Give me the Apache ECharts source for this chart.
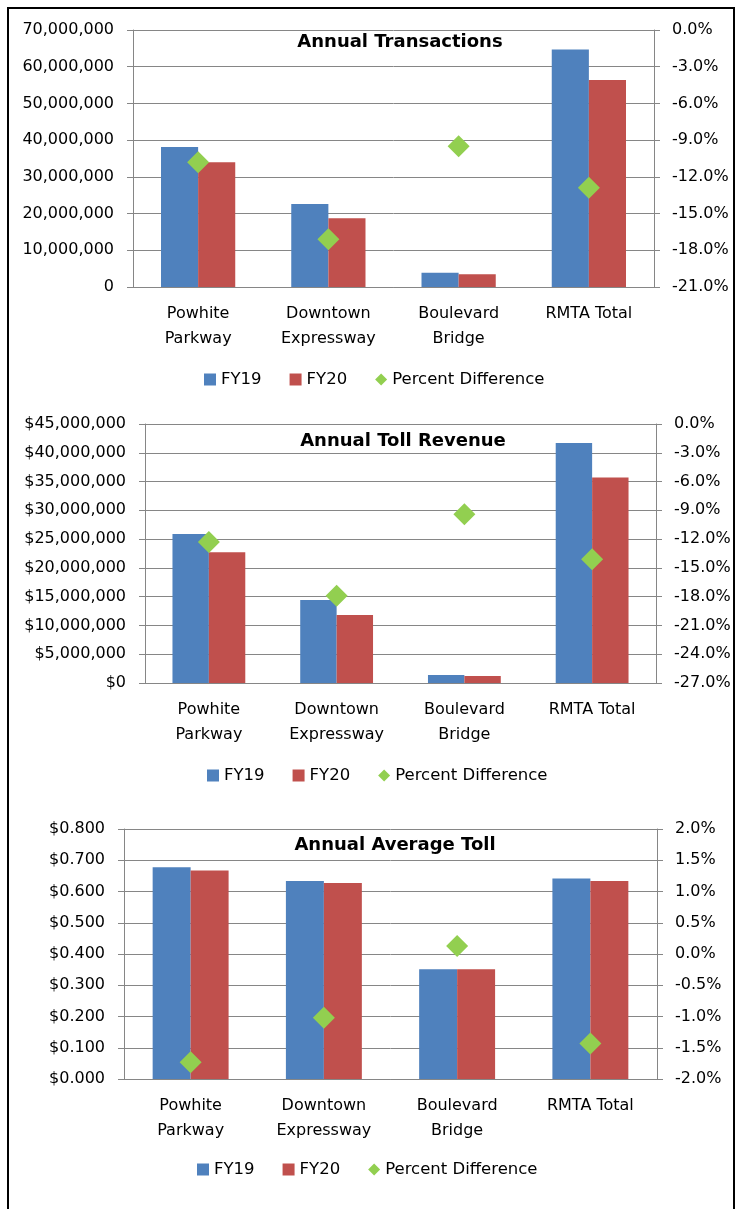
<!DOCTYPE html>
<html>
<head>
<meta charset="utf-8">
<script src="https://cdn.jsdelivr.net/npm/echarts@6/dist/echarts.min.js"></script>
<style>
  html, body { margin: 0; padding: 0; background: #fff; }
  #chart { width: 738px; height: 1209px; }
</style>
</head>
<body>
<div id="chart"></div>
<script>
const categories = ['Powhite\nParkway', 'Downtown\nExpressway', 'Boulevard\nBridge', 'RMTA Total'];
const legendNames = ['FY19', 'FY20', 'Percent Difference'];

// Annual Transactions
const transFY19 = [38100000, 22600000, 3900000, 64700000];
const transFY20 = [34000000, 18700000, 3500000, 56400000];
const transPct = [-10.8, -17.1, -9.5, -12.9];

// Annual Toll Revenue
const revFY19 = [25900000, 14400000, 1400000, 41700000];
const revFY20 = [22700000, 11800000, 1200000, 35700000];
const revPct = [-12.3, -17.9, -9.4, -14.1];

// Annual Average Toll
const tollFY19 = [0.678, 0.634, 0.351, 0.642];
const tollFY20 = [0.667, 0.627, 0.351, 0.634];
const tollPct = [-1.73, -1.02, 0.13, -1.43];

// axis ranges [min, max, interval]
const transLeftAxis = [0, 70000000, 10000000];
const transRightAxis = [-21, 0, 3];
const revLeftAxis = [0, 45000000, 5000000];
const revRightAxis = [-27, 0, 3];
const tollLeftAxis = [0, 0.8, 0.1];
const tollRightAxis = [-2, 2, 0.5];

const FONT = 'DejaVu Sans';
const GRAY = '#868686';

const fmtCount = v => v.toLocaleString('en-US');
const fmtDollar = v => '$' + v.toLocaleString('en-US');
const fmtToll = v => '$' + v.toFixed(3);
const fmtPct = v => (Math.abs(v) < 1e-9 ? 0 : v).toFixed(1) + '%';

const panels = [
  { title: 'Annual Transactions', titleX: 400, titleY: 42, legendX: 204, legendY: 379,
    grid: { left: 133, top: 30, width: 521, height: 257 },
    fy19: transFY19, fy20: transFY20, pct: transPct,
    left: transLeftAxis, right: transRightAxis, leftFmt: fmtCount },
  { title: 'Annual Toll Revenue', titleX: 403, titleY: 441, legendX: 207, legendY: 775,
    grid: { left: 145, top: 424, width: 511, height: 259 },
    fy19: revFY19, fy20: revFY20, pct: revPct,
    left: revLeftAxis, right: revRightAxis, leftFmt: fmtDollar },
  { title: 'Annual Average Toll', titleX: 395, titleY: 845, legendX: 197, legendY: 1169,
    grid: { left: 124, top: 829, width: 533, height: 250 },
    fy19: tollFY19, fy20: tollFY20, pct: tollPct,
    left: tollLeftAxis, right: tollRightAxis, leftFmt: fmtToll }
];

const option = {
  animation: false,
  textStyle: { fontFamily: FONT },
  title: [], legend: [], grid: [], xAxis: [], yAxis: [], series: [],
  graphic: [{
    type: 'rect',
    shape: { x: 8, y: 8, width: 726, height: 1230 },
    style: { fill: 'none', stroke: '#000', lineWidth: 2 },
    silent: true
  }]
};

panels.forEach((p, i) => {
  option.title.push({
    text: p.title, left: p.titleX, top: p.titleY - 11, padding: 0, textAlign: 'center',
    textStyle: { fontFamily: FONT, fontSize: 18, fontWeight: 'bold', color: '#000', lineHeight: 22 }
  });
  option.legend.push({
    left: p.legendX, top: p.legendY - 8, padding: 0,
    itemWidth: 12, itemHeight: 12, itemGap: 28,
    textStyle: { fontFamily: FONT, fontSize: 16.5, color: '#000', lineHeight: 16 },
    data: [
      { name: legendNames[0], icon: 'rect' },
      { name: legendNames[1], icon: 'rect' },
      { name: legendNames[2], icon: 'diamond' }
    ]
  });
  option.grid.push(p.grid);
  option.xAxis.push({
    type: 'category', gridIndex: i, data: categories,
    axisLine: { lineStyle: { color: GRAY, width: 1 } },
    axisTick: { length: 6, lineStyle: { color: GRAY } },
    axisLabel: { interval: 0, margin: 14, fontFamily: FONT, fontSize: 16, lineHeight: 25, color: '#000' }
  });
  option.yAxis.push({
    type: 'value', gridIndex: i, min: p.left[0], max: p.left[1], interval: p.left[2],
    axisLine: { show: true, lineStyle: { color: GRAY } },
    axisTick: { show: true, length: 6, lineStyle: { color: GRAY } },
    splitLine: { lineStyle: { color: GRAY, width: 1 } },
    axisLabel: { margin: 19, fontFamily: FONT, fontSize: 16, color: '#000', formatter: p.leftFmt }
  });
  option.yAxis.push({
    type: 'value', gridIndex: i, position: 'right', min: p.right[0], max: p.right[1], interval: p.right[2],
    axisLine: { show: true, lineStyle: { color: GRAY } },
    axisTick: { show: true, length: 6, lineStyle: { color: GRAY } },
    splitLine: { show: false },
    axisLabel: { margin: 18, fontFamily: FONT, fontSize: 16, color: '#000', formatter: fmtPct }
  });
  option.series.push({
    name: 'FY19', type: 'bar', xAxisIndex: i, yAxisIndex: i * 2,
    barWidth: '28.5%', barGap: '0%', itemStyle: { color: '#4F81BD' }, data: p.fy19
  });
  option.series.push({
    name: 'FY20', type: 'bar', xAxisIndex: i, yAxisIndex: i * 2,
    barWidth: '28.5%', barGap: '0%', itemStyle: { color: '#C0504D' }, data: p.fy20
  });
  option.series.push({
    name: 'Percent Difference', type: 'scatter', xAxisIndex: i, yAxisIndex: i * 2 + 1,
    symbol: 'diamond', symbolSize: 22, z: 5, itemStyle: { color: '#92CF50', opacity: 1 }, data: p.pct
  });
});

const chart = echarts.init(document.getElementById('chart'));
chart.setOption(option);
</script>
</body>
</html>
